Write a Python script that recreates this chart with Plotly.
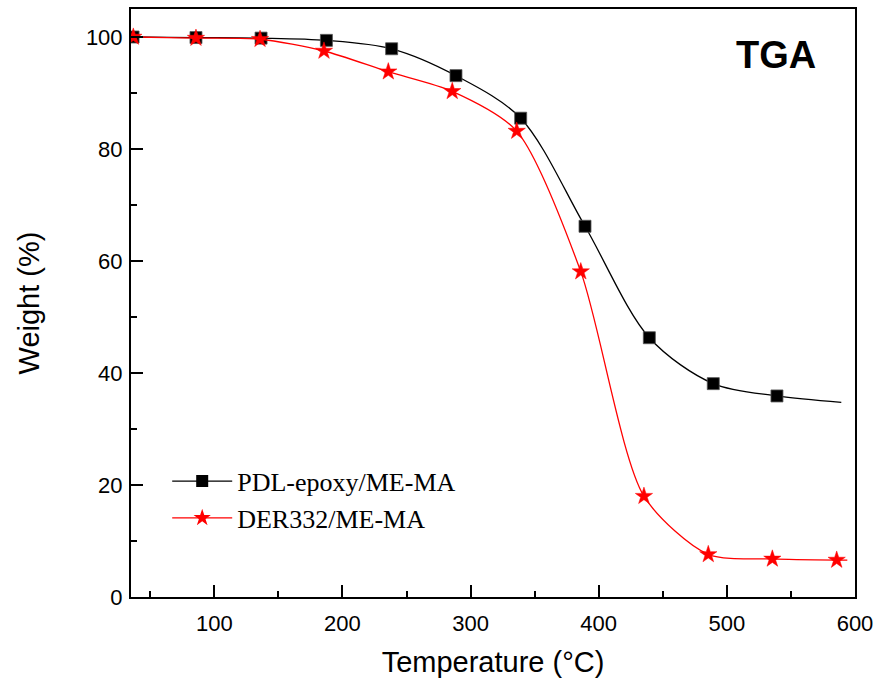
import plotly.graph_objects as go

# Temperatures (°C) and weights (%)
pdl_temp = [36.6, 85.7, 136.5, 187.5, 238.4, 288.6, 339.1, 389.3, 439.5, 489.4, 539.1]
pdl_weight = [100.0, 99.9, 99.8, 99.4, 97.9, 93.1, 85.5, 66.2, 46.3, 38.1, 35.9]
pdl_line_start = (35.0, 100.0)
pdl_line_end = (589.3, 34.75)

der_temp = [36.8, 85.7, 135.7, 185.6, 235.8, 285.7, 336.0, 386.0, 435.3, 485.5, 535.5, 585.7]
der_weight = [100.0, 99.8, 99.6, 97.5, 93.8, 90.3, 83.2, 58.1, 18.0, 7.6, 6.8, 6.6]
der_line_start = (35.0, 100.0)
der_line_end = (594.0, 6.6)

x_range = [35, 600]
y_range = [0, 105]
x_tick_step = 100
y_tick_step = 20

BLACK = "#000000"
RED = "#ff0000"

fig = go.Figure()

# smooth curves
fig.add_trace(go.Scatter(
    x=[pdl_line_start[0]] + pdl_temp + [pdl_line_end[0]],
    y=[pdl_line_start[1]] + pdl_weight + [pdl_line_end[1]],
    mode="lines", line=dict(color=BLACK, width=1.3, shape="spline", smoothing=0.9),
    showlegend=False, hoverinfo="skip"))
fig.add_trace(go.Scatter(
    x=pdl_temp, y=pdl_weight, mode="markers",
    marker=dict(symbol="square", size=12, color=BLACK, line=dict(color="#555555", width=0.8)),
    showlegend=False))
fig.add_trace(go.Scatter(
    x=[der_line_start[0]] + der_temp + [der_line_end[0]],
    y=[der_line_start[1]] + der_weight + [der_line_end[1]],
    mode="lines", line=dict(color=RED, width=1.3, shape="spline", smoothing=0.75),
    showlegend=False, hoverinfo="skip"))
fig.add_trace(go.Scatter(
    x=der_temp, y=der_weight, mode="markers",
    marker=dict(symbol="star", size=13, color=RED, line=dict(color=RED, width=0.5)),
    showlegend=False))

# legend entries
fig.add_trace(go.Scatter(
    x=[None], y=[None], mode="lines+markers", name="PDL-epoxy/ME-MA",
    line=dict(color=BLACK, width=1.3),
    marker=dict(symbol="square", size=12, color=BLACK)))
fig.add_trace(go.Scatter(
    x=[None], y=[None], mode="lines+markers", name="DER332/ME-MA",
    line=dict(color=RED, width=1.3),
    marker=dict(symbol="star", size=13, color=RED)))

# invisible traces so the tick overlay axes are drawn
fig.add_trace(go.Scatter(x=[None], y=[None], xaxis="x2", yaxis="y2",
                         mode="markers", showlegend=False, hoverinfo="skip"))
fig.add_trace(go.Scatter(x=[None], y=[None], xaxis="x3", yaxis="y3",
                         mode="markers", showlegend=False, hoverinfo="skip"))

label_font = dict(family="Liberation Sans, Arial", size=22, color=BLACK)
title_font = dict(family="Liberation Sans, Arial", size=29, color=BLACK)

axis_common = dict(
    showgrid=False, zeroline=False, showline=True, linecolor=BLACK, linewidth=2,
    mirror=True, ticks="", tickfont=label_font,
)
tick_common = dict(
    showgrid=False, zeroline=False, showline=False, showticklabels=False,
    ticks="inside", tickwidth=2, tickcolor=BLACK, tickmode="linear", tick0=0,
)

fig.update_layout(
    xaxis=dict(range=x_range, tickmode="linear", tick0=0, dtick=x_tick_step,
               ticklabelstandoff=6,
               title=dict(text="Temperature (°C)", font=title_font, standoff=16),
               **axis_common),
    yaxis=dict(range=y_range, tickmode="linear", tick0=0, dtick=y_tick_step,
               ticklabelstandoff=2,
               title=dict(text="Weight (%)", font=title_font, standoff=38),
               **axis_common),
    # minor ticks
    xaxis2=dict(overlaying="x", anchor="y2", side="bottom", range=x_range,
                dtick=x_tick_step / 2, ticklen=6, **tick_common),
    yaxis2=dict(overlaying="y", anchor="x2", side="left", range=y_range,
                dtick=y_tick_step / 2, ticklen=6, **tick_common),
    # major ticks
    xaxis3=dict(overlaying="x", anchor="y3", side="bottom", range=x_range,
                dtick=x_tick_step, ticklen=12, **tick_common),
    yaxis3=dict(overlaying="y", anchor="x3", side="left", range=y_range,
                dtick=y_tick_step, ticklen=12, **tick_common),
)

fig.add_annotation(
    x=0.891, y=0.922, xref="paper", yref="paper", xanchor="center", yanchor="middle",
    text="<b>TGA</b>", showarrow=False,
    font=dict(family="Liberation Sans, Arial", size=38, color=BLACK))

fig.update_layout(
    width=887, height=681,
    margin=dict(l=131, r=32, t=7, b=84),
    paper_bgcolor="white", plot_bgcolor="white",
    legend=dict(x=0.05, y=0.237, xanchor="left", yanchor="top",
                font=dict(family="Liberation Serif, Times New Roman", size=26, color=BLACK),
                bgcolor="rgba(0,0,0,0)", itemwidth=60, tracegroupgap=0),
)

fig.write_html("out.html")
